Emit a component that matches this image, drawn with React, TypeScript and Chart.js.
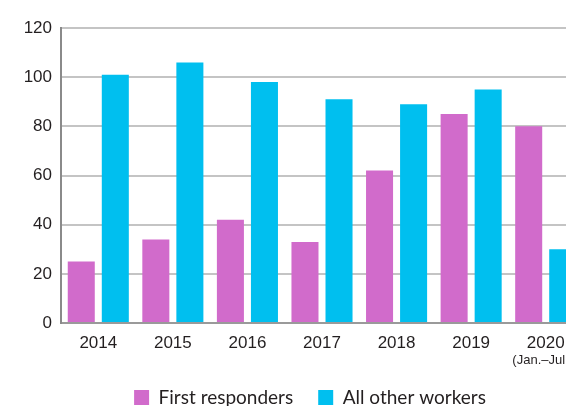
import React, { useEffect, useRef } from "react";
import { Chart, registerables } from "chart.js";

Chart.register(...registerables);

const categories = ["2014", "2015", "2016", "2017", "2018", "2019", "2020"];
const firstResponders = [25, 34, 42, 33, 62, 85, 80];
const allOtherWorkers = [101, 106, 98, 91, 89, 95, 30];
const yTicks = [0, 20, 40, 60, 80, 100, 120];
const subLabel = "(Jan.\u2013Jul.)";
const seriesNames = ["First responders", "All other workers"];

const MAGENTA = "#D16BCB";
const CYAN = "#00BFEF";
const TEXT = "#231F20";

const CW = 616;
const CH = 417;

const subLabelPlugin = {
  id: "subLabel",
  afterLayout(chart: any) {
    if (chart.legend) {
      chart.legend.left = chart.chartArea.left - 24;
    }
  },
  afterDraw(chart: any) {
    const x = chart.scales.x;
    const ctx = chart.ctx;
    ctx.save();
    ctx.font = "13px 'Liberation Sans', Arial, sans-serif";
    ctx.fillStyle = TEXT;
    ctx.textAlign = "center";
    ctx.textBaseline = "middle";
    ctx.fillText(subLabel, x.getPixelForValue(categories.length - 1) - 3, x.top + 37);
    ctx.restore();
  },
};

export default function App() {
  const ref = useRef<HTMLCanvasElement>(null);
  useEffect(() => {
    if (!ref.current) return;
    const chart = new Chart(ref.current, {
      type: "bar",
      data: {
        labels: categories,
        datasets: [
          {
            label: seriesNames[0],
            data: firstResponders,
            backgroundColor: MAGENTA,
            categoryPercentage: 0.913,
            barPercentage: 0.794,
          },
          {
            label: seriesNames[1],
            data: allOtherWorkers,
            backgroundColor: CYAN,
            categoryPercentage: 0.913,
            barPercentage: 0.794,
          },
        ],
      },
      options: {
        responsive: false,
        animation: false,
        layout: { padding: { left: 0, right: 33, top: 28, bottom: 0 } },
        plugins: {
          legend: {
            position: "bottom",
            fullSize: false,
            labels: {
              boxWidth: 15,
              boxHeight: 15,
              padding: 25,
              color: TEXT,
              font: { family: "Lato, 'Open Sans', sans-serif", size: 19 },
            },
          },
          tooltip: { enabled: false },
        },
        scales: {
          x: {
            grid: { display: false, drawTicks: false },
            border: { display: true, color: "#9a9a9a", width: 2 },
            ticks: {
              color: TEXT,
              padding: 10,
              font: { family: "'Liberation Sans', Arial, sans-serif", size: 17 },
            },
            afterFit(scale: any) {
              scale.height = 40;
            },
          },
          y: {
            min: 0,
            max: 120,
            afterBuildTicks(scale: any) {
              scale.ticks = yTicks.map((v) => ({ value: v }));
            },
            grid: { color: "#c4c4c4", lineWidth: 2, drawTicks: false },
            border: { display: true, color: "#8a8a8a", width: 2 },
            ticks: {
              color: TEXT,
              padding: 9,
              font: { family: "'Liberation Sans', Arial, sans-serif", size: 17 },
            },
            afterFit(scale: any) {
              scale.width = 61;
            },
          },
        },
      },
      plugins: [subLabelPlugin],
    });
    return () => chart.destroy();
  }, []);
  return (
    <div
      style={{
        position: "fixed",
        left: 0,
        top: 0,
        width: 566,
        height: 406,
        overflow: "hidden",
        background: "#fff",
      }}
    >
      <canvas ref={ref} width={CW} height={CH} style={{ width: CW, height: CH, display: "block" }} />
    </div>
  );
}
